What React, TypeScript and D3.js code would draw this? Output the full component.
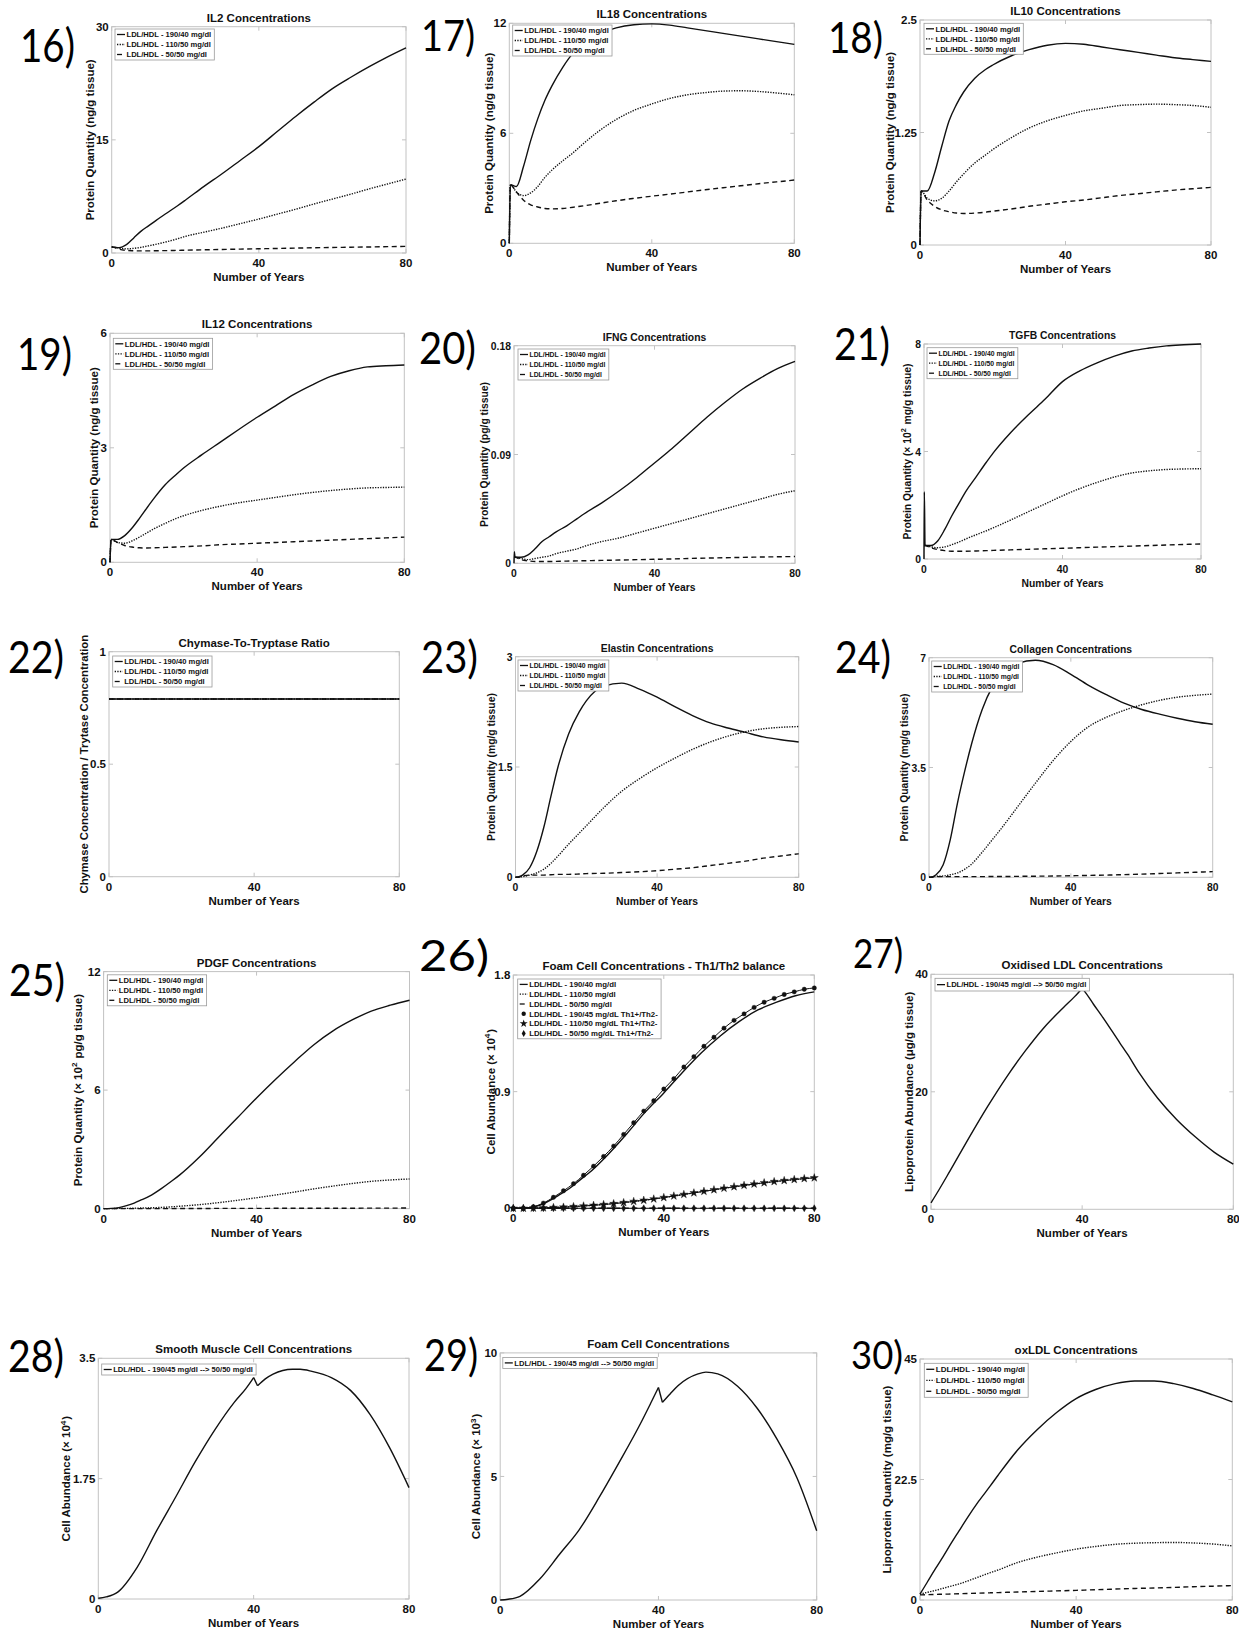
import React from 'react';
import * as d3 from 'd3';

// ---------------- x grids ----------------
const YEARS = [0, 0.3, 2, 4, 6, 8, 10, 12, 15, 18, 20, 25, 30, 35, 40, 45, 50, 55, 60, 65, 70, 75, 80];
const SPIKE_YEARS = [0, 0.1, 0.3, 2, 4, 6, 8, 10, 12, 15, 18, 20, 25, 30, 35, 40, 45, 50, 55, 60, 65, 70, 75, 80];
const SWITCH_YEARS = [0, 2, 5, 10, 15, 20, 25, 30, 35, 38, 40, 41, 43, 45, 50, 52, 55, 60, 65, 70, 75, 80];
const MARK_YEARS = [0, 2.67, 5.33, 8, 10.67, 13.33, 16, 18.67, 21.33, 24, 26.67, 29.33, 32, 34.67, 37.33, 40, 42.67, 45.33, 48, 50.67, 53.33, 56, 58.67, 61.33, 64, 66.67, 69.33, 72, 74.67, 77.33, 80];
const X_TICKS = [0, 40, 80];

// ---------------- series values ----------------
const IL2_HIGH = [0.8, 0.8, 0.7, 1.1, 2.0, 2.9, 3.6, 4.3, 5.3, 6.3, 7.0, 8.8, 10.5, 12.3, 14.1, 16.1, 18.1, 20.0, 21.8, 23.3, 24.7, 26.0, 27.2];
const IL2_MID = [0.8, 0.8, 0.65, 0.55, 0.62, 0.75, 0.95, 1.15, 1.5, 1.9, 2.2, 2.75, 3.3, 3.9, 4.5, 5.15, 5.8, 6.5, 7.15, 7.8, 8.5, 9.15, 9.8];
const IL2_LOW = [0.8, 0.78, 0.5, 0.35, 0.3, 0.28, 0.28, 0.3, 0.32, 0.35, 0.37, 0.42, 0.47, 0.52, 0.56, 0.6, 0.65, 0.7, 0.73, 0.77, 0.8, 0.84, 0.88];

const IL18_HIGH = [0, 3.2, 3.1, 4.2, 5.6, 6.8, 7.8, 8.6, 9.6, 10.4, 10.8, 11.4, 11.75, 11.92, 11.97, 11.9, 11.75, 11.6, 11.45, 11.3, 11.15, 11.0, 10.85];
const IL18_MID = [0, 3.2, 2.8, 2.6, 2.75, 3.1, 3.6, 4.0, 4.5, 4.95, 5.3, 6.1, 6.75, 7.25, 7.6, 7.9, 8.1, 8.22, 8.3, 8.32, 8.28, 8.2, 8.1];
const IL18_LOW = [0, 3.2, 2.8, 2.35, 2.1, 1.98, 1.9, 1.88, 1.9, 1.97, 2.02, 2.17, 2.32, 2.45, 2.57, 2.68, 2.8, 2.92, 3.03, 3.14, 3.25, 3.35, 3.45];

const IL10_HIGH = [0, 0.6, 0.6, 0.8, 1.1, 1.38, 1.56, 1.7, 1.85, 1.95, 2.0, 2.1, 2.17, 2.22, 2.24, 2.23, 2.2, 2.17, 2.14, 2.11, 2.08, 2.06, 2.04];
const IL10_MID = [0, 0.6, 0.52, 0.49, 0.52, 0.6, 0.7, 0.79, 0.91, 1.0, 1.06, 1.19, 1.3, 1.38, 1.44, 1.49, 1.52, 1.55, 1.56, 1.565, 1.56, 1.55, 1.53];
const IL10_LOW = [0, 0.6, 0.5, 0.43, 0.39, 0.37, 0.355, 0.35, 0.355, 0.365, 0.375, 0.4, 0.43, 0.455, 0.48, 0.5, 0.525, 0.55, 0.57, 0.59, 0.61, 0.625, 0.64];

const IL12_HIGH = [0, 0.6, 0.6, 0.7, 0.9, 1.15, 1.42, 1.68, 2.03, 2.3, 2.47, 2.82, 3.15, 3.48, 3.8, 4.1, 4.4, 4.65, 4.87, 5.02, 5.12, 5.15, 5.17];
const IL12_MID = [0, 0.6, 0.52, 0.5, 0.56, 0.66, 0.77, 0.88, 1.02, 1.15, 1.22, 1.36, 1.47, 1.56, 1.63, 1.7, 1.77, 1.83, 1.88, 1.92, 1.95, 1.96, 1.97];
const IL12_LOW = [0, 0.6, 0.52, 0.44, 0.4, 0.38, 0.375, 0.38, 0.39, 0.4, 0.41, 0.43, 0.46, 0.48, 0.5, 0.52, 0.54, 0.56, 0.58, 0.6, 0.62, 0.64, 0.66];

const IFNG_HIGH = [0, 0.0095, 0.005, 0.005, 0.007, 0.012, 0.018, 0.022, 0.026, 0.031, 0.037, 0.041, 0.05, 0.06, 0.071, 0.083, 0.095, 0.108, 0.121, 0.133, 0.144, 0.153, 0.161, 0.167];
const IFNG_MID = [0.005, 0.005, 0.005, 0.004, 0.003, 0.004, 0.005, 0.006, 0.008, 0.01, 0.012, 0.014, 0.018, 0.021, 0.025, 0.029, 0.033, 0.037, 0.041, 0.045, 0.049, 0.053, 0.057, 0.06];
const IFNG_LOW = [0.005, 0.005, 0.005, 0.003, 0.002, 0.0015, 0.0015, 0.0015, 0.0016, 0.0018, 0.002, 0.0021, 0.0024, 0.0027, 0.003, 0.0033, 0.0036, 0.004, 0.0043, 0.0046, 0.0049, 0.0052, 0.0054, 0.0056];

const TGFB_HIGH = [0, 2.5, 0.5, 0.5, 0.68, 1.1, 1.6, 2.05, 2.5, 3.05, 3.6, 3.95, 4.7, 5.35, 5.95, 6.6, 7.0, 7.3, 7.55, 7.74, 7.85, 7.93, 7.97, 8.0];
const TGFB_MID = [0.5, 0.5, 0.5, 0.45, 0.42, 0.45, 0.53, 0.63, 0.74, 0.9, 1.05, 1.16, 1.45, 1.75, 2.05, 2.35, 2.62, 2.85, 3.05, 3.2, 3.28, 3.33, 3.35, 3.36];
const TGFB_LOW = [0.5, 0.5, 0.5, 0.42, 0.35, 0.31, 0.29, 0.29, 0.29, 0.3, 0.31, 0.32, 0.34, 0.36, 0.38, 0.4, 0.42, 0.44, 0.46, 0.48, 0.5, 0.52, 0.54, 0.56];

const CHYMASE_HIGH = [0.79, 0.79, 0.79, 0.79, 0.79, 0.79, 0.79, 0.79, 0.79, 0.79, 0.79, 0.79, 0.79, 0.79, 0.79, 0.79, 0.79, 0.79, 0.79, 0.79, 0.79, 0.79, 0.79];
const CHYMASE_MID = [0.79, 0.79, 0.79, 0.79, 0.79, 0.79, 0.79, 0.79, 0.79, 0.79, 0.79, 0.79, 0.79, 0.79, 0.79, 0.79, 0.79, 0.79, 0.79, 0.79, 0.79, 0.79, 0.79];
const CHYMASE_LOW = [0.79, 0.79, 0.79, 0.79, 0.79, 0.79, 0.79, 0.79, 0.79, 0.79, 0.79, 0.79, 0.79, 0.79, 0.79, 0.79, 0.79, 0.79, 0.79, 0.79, 0.79, 0.79, 0.79];

const ELASTIN_HIGH = [0, 0, 0.03, 0.13, 0.35, 0.68, 1.1, 1.5, 1.95, 2.25, 2.4, 2.6, 2.64, 2.56, 2.45, 2.32, 2.2, 2.1, 2.03, 1.97, 1.91, 1.87, 1.84];
const ELASTIN_MID = [0, 0, 0.01, 0.03, 0.06, 0.11, 0.19, 0.29, 0.45, 0.6, 0.7, 0.95, 1.17, 1.34, 1.49, 1.62, 1.74, 1.84, 1.92, 1.98, 2.02, 2.04, 2.05];
const ELASTIN_LOW = [0, 0, 0.02, 0.03, 0.03, 0.03, 0.035, 0.04, 0.04, 0.045, 0.05, 0.055, 0.065, 0.075, 0.09, 0.11, 0.13, 0.16, 0.19, 0.22, 0.26, 0.29, 0.32];

const COLLAGEN_HIGH = [0, 0, 0.08, 0.4, 1.2, 2.35, 3.35, 4.25, 5.35, 6.1, 6.45, 6.82, 6.92, 6.78, 6.47, 6.12, 5.82, 5.55, 5.35, 5.2, 5.07, 4.96, 4.88];
const COLLAGEN_MID = [0, 0, 0.03, 0.04, 0.08, 0.14, 0.25, 0.42, 0.8, 1.22, 1.5, 2.25, 3.0, 3.72, 4.33, 4.8, 5.1, 5.32, 5.5, 5.64, 5.74, 5.8, 5.84];
const COLLAGEN_LOW = [0, 0, 0.02, 0.02, 0.02, 0.02, 0.02, 0.02, 0.02, 0.025, 0.025, 0.03, 0.035, 0.04, 0.05, 0.06, 0.07, 0.085, 0.1, 0.12, 0.14, 0.16, 0.18];

const PDGF_HIGH = [0, 0, 0.01, 0.05, 0.15, 0.28, 0.45, 0.63, 1.0, 1.42, 1.72, 2.6, 3.6, 4.6, 5.6, 6.55, 7.45, 8.3, 9.0, 9.55, 10.0, 10.3, 10.55];
const PDGF_MID = [0, 0, 0, 0.01, 0.01, 0.02, 0.03, 0.04, 0.06, 0.09, 0.12, 0.2, 0.3, 0.42, 0.55, 0.69, 0.84, 1.0, 1.14, 1.27, 1.38, 1.45, 1.5];
const PDGF_LOW = [0, 0, 0, 0, 0, 0, 0, 0, 0, 0, 0.005, 0.005, 0.01, 0.01, 0.01, 0.015, 0.015, 0.02, 0.02, 0.02, 0.025, 0.025, 0.03];

const FOAM_HIGH = [0, 0, 0, 0.005, 0.015, 0.035, 0.065, 0.1, 0.155, 0.225, 0.27, 0.41, 0.57, 0.74, 0.89, 1.05, 1.2, 1.33, 1.44, 1.53, 1.59, 1.64, 1.67];
const FOAM_MID = [0, 0, 0, 0, 0.002, 0.004, 0.006, 0.008, 0.012, 0.017, 0.021, 0.032, 0.046, 0.063, 0.083, 0.105, 0.128, 0.15, 0.17, 0.19, 0.207, 0.222, 0.235];
const FOAM_LOW = [0, 0, 0, 0, 0, 0, 0, 0, 0, 0, 0, 0, 0, 0, 0, 0, 0, 0, 0, 0, 0, 0, 0];
const FOAM_TH_HIGH = [0, 0, 0.012, 0.04, 0.085, 0.135, 0.19, 0.255, 0.325, 0.4, 0.48, 0.57, 0.66, 0.75, 0.83, 0.92, 1.0, 1.09, 1.17, 1.25, 1.32, 1.39, 1.45, 1.5, 1.55, 1.59, 1.62, 1.65, 1.67, 1.69, 1.7];
const FOAM_TH_MID = [0, 0, 0.001, 0.003, 0.006, 0.009, 0.013, 0.018, 0.023, 0.029, 0.036, 0.044, 0.053, 0.062, 0.072, 0.083, 0.095, 0.107, 0.119, 0.131, 0.143, 0.155, 0.166, 0.177, 0.187, 0.197, 0.206, 0.214, 0.222, 0.229, 0.235];
const FOAM_TH_LOW = [0, 0, 0, 0, 0, 0, 0, 0, 0, 0, 0, 0, 0, 0, 0, 0, 0, 0, 0, 0, 0, 0, 0, 0, 0, 0, 0, 0, 0, 0, 0];

const OXLDL_SWITCH = [1.1, 3.2, 6.5, 12.1, 17.5, 22.5, 27.0, 31.0, 34.3, 36.2, 37.6, 36.8, 34.9, 33.1, 28.3, 26.4, 23.3, 18.9, 15.3, 12.3, 9.7, 7.7];
const SMC_SWITCH = [0.01, 0.03, 0.1, 0.46, 0.99, 1.49, 2.0, 2.46, 2.86, 3.06, 3.22, 3.1, 3.2, 3.27, 3.34, 3.34, 3.31, 3.22, 3.03, 2.68, 2.2, 1.62];
const FOAMCELL_SWITCH = [0, 0.03, 0.15, 0.85, 1.85, 2.85, 4.15, 5.55, 7.0, 7.95, 8.6, 8.0, 8.35, 8.68, 9.15, 9.22, 9.15, 8.65, 7.75, 6.5, 4.95, 2.8];

const OXLDL_HIGH = [1.1, 1.45, 3.5, 5.9, 8.2, 10.6, 12.9, 15.2, 18.4, 21.3, 23.3, 28.0, 31.8, 35.0, 37.6, 39.3, 40.4, 40.9, 40.9, 40.4, 39.5, 38.3, 37.0];
const OXLDL_MID = [1.1, 1.15, 1.45, 1.8, 2.2, 2.6, 3.0, 3.5, 4.3, 5.1, 5.6, 7.0, 8.0, 8.8, 9.5, 10.0, 10.4, 10.6, 10.7, 10.75, 10.65, 10.45, 10.1];
const OXLDL_LOW = [0.95, 0.95, 1.0, 1.04, 1.08, 1.12, 1.17, 1.21, 1.28, 1.34, 1.38, 1.5, 1.6, 1.7, 1.8, 1.92, 2.04, 2.15, 2.25, 2.36, 2.47, 2.58, 2.7];

// ---------------- tick labels ----------------
const TICKS_IL2 = [0, 15, 30];
const TICKS_IL18 = [0, 6, 12];
const TICKS_IL10 = [0, 1.25, 2.5];
const TICKS_IL12 = [0, 3, 6];
const TICKS_IFNG = [0, 0.09, 0.18];
const TICKS_TGFB = [0, 4, 8];
const TICKS_CHYMASE = [0, 0.5, 1];
const TICKS_ELASTIN = [0, 1.5, 3];
const TICKS_COLLAGEN = [0, 3.5, 7];
const TICKS_PDGF = [0, 6, 12];
const TICKS_FOAM = [0, 0.9, 1.8];
const TICKS_OXSW = [0, 20, 40];
const TICKS_SMC = [0, 1.75, 3.5];
const TICKS_FOAMSW = [0, 5, 10];
const TICKS_OXLDL = [0, 22.5, 45];

// ---------------- legend labels ----------------
const LBL_HIGH = 'LDL/HDL - 190/40 mg/dl';
const LBL_MID = 'LDL/HDL - 110/50 mg/dl';
const LBL_LOW = 'LDL/HDL - 50/50 mg/dl';
const LBL_TH_HIGH = 'LDL/HDL - 190/45 mg/dL Th1+/Th2-';
const LBL_TH_MID = 'LDL/HDL - 110/50 mg/dL Th1+/Th2-';
const LBL_TH_LOW = 'LDL/HDL - 50/50 mg/dL Th1+/Th2-';
const LBL_SWITCH = 'LDL/HDL - 190/45 mg/dl --> 50/50 mg/dl';

// ---------------- rendering ----------------
const FONT = "'Liberation Sans', Arial, Helvetica, sans-serif";
const TAG_FONT = "Lato, 'Open Sans', 'Noto Sans', sans-serif";
const FRAME = '#c2c2c2';
const INK = '#111';

type Style = 'solid' | 'dotted' | 'dashed';
type Marker = 'circle' | 'star' | 'diamond';

const DASH: Record<Style, string | undefined> = { solid: undefined, dotted: '1.3 1.3', dashed: '5 3.5' };
const WIDTH: Record<Style, number> = { solid: 1.4, dotted: 1.4, dashed: 1.4 };
const SYM: Record<Marker, string> = {
  circle: d3.symbol(d3.symbolCircle, 15)() as string,
  star: d3.symbol(d3.symbolStar, 20)() as string,
  diamond: d3.symbol(d3.symbolDiamond, 14)() as string,
};

let _ctx: CanvasRenderingContext2D | null = null;
function textWidth(s: string, fs: number) {
  if (typeof document !== 'undefined') {
    if (!_ctx) _ctx = document.createElement('canvas').getContext('2d');
    if (_ctx) {
      _ctx.font = `bold ${fs}px 'Liberation Sans', Arial, sans-serif`;
      return _ctx.measureText(s).width;
    }
  }
  return s.length * fs * 0.56;
}

const s3 = (ys: number[], style: Style, xs: number[] = YEARS, extra: any = {}) => ({ xs, ys, style, ...extra });
const STD_LEGEND = [
  { label: LBL_HIGH, style: 'solid' as Style },
  { label: LBL_MID, style: 'dotted' as Style },
  { label: LBL_LOW, style: 'dashed' as Style },
];

const PANELS: any[] = [
  { tag: '16)', tag_: [20, 62, 46, 55], box: [111.7, 26.7, 406, 253], title: 'IL2 Concentrations', ylabel: 'Protein Quantity (ng/g tissue)', yOff: 17.7, ticks: TICKS_IL2,
    series: [s3(IL2_HIGH, 'solid'), s3(IL2_MID, 'dotted'), s3(IL2_LOW, 'dashed')], legend: { items: STD_LEGEND, dx: 3.3, dy: 2.3 } },
  { tag: '17)', tag_: [421, 51, 42, 54], box: [509.3, 23.3, 794.3, 243.3], title: 'IL18 Concentrations', ylabel: 'Protein Quantity (ng/g tissue)', yOff: 16.3, ticks: TICKS_IL18,
    series: [s3(IL18_HIGH, 'solid'), s3(IL18_MID, 'dotted'), s3(IL18_LOW, 'dashed')], legend: { items: STD_LEGEND, dx: 3.4, dy: 1.7 } },
  { tag: '18)', tag_: [828, 53, 43, 55], box: [920, 20, 1211, 245], title: 'IL10 Concentrations', ylabel: 'Protein Quantity (ng/g tissue)', yOff: 26, ticks: TICKS_IL10,
    series: [s3(IL10_HIGH, 'solid'), s3(IL10_MID, 'dotted'), s3(IL10_LOW, 'dashed')], legend: { items: STD_LEGEND, dx: 4, dy: 3.3 } },
  { tag: '19)', tag_: [17, 370, 44, 55], box: [110, 333.3, 404.3, 562.3], title: 'IL12 Concentrations', ylabel: 'Protein Quantity (ng/g tissue)', yOff: 12, ticks: TICKS_IL12,
    series: [s3(IL12_HIGH, 'solid'), s3(IL12_MID, 'dotted'), s3(IL12_LOW, 'dashed')], legend: { items: STD_LEGEND, dx: 3.3, dy: 5 } },
  { tag: '20)', tag_: [419, 364, 44, 57], box: [514, 345.7, 795, 563.3], title: 'IFNG Concentrations', ylabel: 'Protein Quantity (pg/g tissue)', yOff: 26, ticks: TICKS_IFNG, sq: 0.9,
    series: [s3(IFNG_HIGH, 'solid', SPIKE_YEARS), s3(IFNG_MID, 'dotted', SPIKE_YEARS), s3(IFNG_LOW, 'dashed', SPIKE_YEARS)], legend: { items: STD_LEGEND, dx: 4, dy: 3.3 } },
  { tag: '21)', tag_: [834, 360, 44, 56], box: [924, 344, 1201, 559], title: 'TGFB Concentrations', ylabel: 'Protein Quantity (× 10^2^ mg/g tissue)', yOff: 13, ticks: TICKS_TGFB, sq: 0.9,
    series: [s3(TGFB_HIGH, 'solid', SPIKE_YEARS), s3(TGFB_MID, 'dotted', SPIKE_YEARS), s3(TGFB_LOW, 'dashed', SPIKE_YEARS)], legend: { items: STD_LEGEND, dx: 3, dy: 3.7 } },
  { tag: '22)', tag_: [8, 673, 44, 56], box: [109, 651.7, 399.3, 876.7], title: 'Chymase-To-Tryptase Ratio', ylabel: 'Chymase Concentration / Trytase Concentration', yOff: 21.5, ticks: TICKS_CHYMASE, yfs: 11.3,
    series: [s3(CHYMASE_HIGH, 'solid'), s3(CHYMASE_MID, 'dotted'), s3(CHYMASE_LOW, 'dashed')], legend: { items: STD_LEGEND, dx: 3.7, dy: 4.3 } },
  { tag: '23)', tag_: [421, 673, 44, 57], box: [515.5, 656.7, 798.7, 877.3], title: 'Elastin Concentrations', ylabel: 'Protein Quantity (mg/g tissue)', yOff: 20.5, ticks: TICKS_ELASTIN, sq: 0.9,
    series: [s3(ELASTIN_HIGH, 'solid'), s3(ELASTIN_MID, 'dotted'), s3(ELASTIN_LOW, 'dashed')], legend: { items: STD_LEGEND, dx: 2.5, dy: 3.3 } },
  { tag: '24)', tag_: [835, 673, 44, 56], box: [929, 657.7, 1212.7, 877.3], title: 'Collagen Concentrations', ylabel: 'Protein Quantity (mg/g tissue)', yOff: 21, ticks: TICKS_COLLAGEN, sq: 0.9,
    series: [s3(COLLAGEN_HIGH, 'solid'), s3(COLLAGEN_MID, 'dotted'), s3(COLLAGEN_LOW, 'dashed')], legend: { items: STD_LEGEND, dx: 2.7, dy: 3.3 } },
  { tag: '25)', tag_: [9, 996, 45, 56], box: [103.6, 971.6, 409.5, 1208.6], title: 'PDGF Concentrations', ylabel: 'Protein Quantity (× 10^2^ pg/g tissue)', yOff: 21.6, ticks: TICKS_PDGF,
    series: [s3(PDGF_HIGH, 'solid'), s3(PDGF_MID, 'dotted'), s3(PDGF_LOW, 'dashed')], legend: { items: STD_LEGEND, dx: 3.7, dy: 3.2 } },
  { tag: '26)', tag_: [419, 971, 42, 70], box: [513.3, 975, 814.3, 1208.3], title: 'Foam Cell Concentrations - Th1/Th2 balance', ylabel: 'Cell Abundance (× 10^4^)', yOff: 18.3, ticks: TICKS_FOAM,
    series: [s3(FOAM_HIGH, 'solid'), s3(FOAM_MID, 'dotted'), s3(FOAM_LOW, 'dashed'),
      s3(FOAM_TH_HIGH, 'solid', MARK_YEARS, { marker: 'circle', width: 1 }), s3(FOAM_TH_MID, 'solid', MARK_YEARS, { marker: 'star', width: 1 }), s3(FOAM_TH_LOW, 'solid', MARK_YEARS, { marker: 'diamond', width: 1 })],
    legend: { items: [...STD_LEGEND, { label: LBL_TH_HIGH, marker: 'circle' }, { label: LBL_TH_MID, marker: 'star' }, { label: LBL_TH_LOW, marker: 'diamond' }], dx: 4.4, dy: 4, rowH: 9.8, fs: 7.8 } },
  { tag: '27)', tag_: [853, 968, 40, 50], box: [931, 974.3, 1233.3, 1209.3], title: 'Oxidised LDL Concentrations', ylabel: 'Lipoprotein Abundance (μg/g tissue)', yOff: 18.5, ticks: TICKS_OXSW,
    series: [s3(OXLDL_SWITCH, 'solid', SWITCH_YEARS, { breaks: [40] })], legend: { items: [{ label: LBL_SWITCH, style: 'solid' }], dx: 4, dy: 4, rowH: 11.7 } },
  { tag: '28)', tag_: [8, 1372, 44, 56], box: [98.3, 1358.3, 409, 1599], title: 'Smooth Muscle Cell Concentrations', ylabel: 'Cell Abundance (× 10^4^)', yOff: 28, ticks: TICKS_SMC,
    series: [s3(SMC_SWITCH, 'solid', SWITCH_YEARS, { breaks: [40, 41] })], legend: { items: [{ label: LBL_SWITCH, style: 'solid' }], dx: 3.4, dy: 5.7 } },
  { tag: '29)', tag_: [424, 1371, 44, 54], box: [500.2, 1352.9, 816.7, 1600], title: 'Foam Cell Concentrations', ylabel: 'Cell Abundance (× 10^3^)', yOff: 20, ticks: TICKS_FOAMSW,
    series: [s3(FOAMCELL_SWITCH, 'solid', SWITCH_YEARS, { breaks: [40, 41] })], legend: { items: [{ label: LBL_SWITCH, style: 'solid' }], dx: 2.6, dy: 4.5 } },
  { tag: '30)', tag_: [851, 1369, 38, 52], box: [920, 1359, 1232.3, 1600], title: 'oxLDL Concentrations', ylabel: 'Lipoprotein Quantity (mg/g tissue)', yOff: 29, ticks: TICKS_OXLDL,
    series: [s3(OXLDL_HIGH, 'solid'), s3(OXLDL_MID, 'dotted'), s3(OXLDL_LOW, 'dashed')], legend: { items: STD_LEGEND, dx: 4.3, dy: 4.3, rowH: 11, fs: 8 } },
];

function tf(x: number, y: number, sq = 1, rot = 0) {
  return `translate(${x},${y})${rot ? ` rotate(${rot})` : ''}${sq !== 1 ? ` scale(${sq},1)` : ''}`;
}

function RichText({ text, fs }: { text: string; fs: number }) {
  const parts = text.split('^');
  const out: any[] = [];
  parts.forEach((p, i) => {
    if (!p) return;
    if (i % 2 === 1) {
      out.push(<tspan key={i} dy={-fs * 0.4} fontSize={fs * 0.7}>{p}</tspan>);
      out.push(<tspan key={i + 'r'} dy={fs * 0.4} fontSize={fs}>{'\u200A'}</tspan>);
    } else {
      out.push(<tspan key={i}>{p}</tspan>);
    }
  });
  return <>{out}</>;
}

function Panel({ p }: { p: any }) {
  const [L, T, R, B] = p.box;
  const sq = p.sq ?? 1;
  const x = d3.scaleLinear().domain([0, 80]).range([L, R]);
  const yMax = p.ticks[p.ticks.length - 1];
  const y = d3.scaleLinear().domain([0, yMax]).range([B, T]);
  const line = d3.line<[number, number]>().x(d => x(d[0])).y(d => y(d[1])).curve(d3.curveMonotoneX);
  const tickFs = 11.5;
  const labFs = 11.5;
  const yfs = p.yfs ?? labFs;

  const paths: any[] = [];
  p.series.forEach((s: any, si: number) => {
    const pts: [number, number][] = s.xs.map((xv: number, i: number) => [xv, s.ys[i]]);
    const cuts = [0, ...(s.breaks || []), 80];
    for (let k = 0; k < cuts.length - 1; k++) {
      const seg = pts.filter(d => d[0] >= cuts[k] && d[0] <= cuts[k + 1]);
      paths.push(
        <path key={`${si}-${k}`} d={line(seg) || ''} fill="none" stroke={INK}
          strokeWidth={s.width ?? WIDTH[s.style as Style]} strokeDasharray={DASH[s.style as Style]} strokeLinejoin="round" />
      );
    }
    if (s.marker) {
      pts.forEach((d, i) => {
        paths.push(<path key={`m${si}-${i}`} d={SYM[s.marker as Marker]} transform={`translate(${x(d[0])},${y(d[1])})`} fill={INK} stroke={INK} strokeWidth={0.4} />);
      });
    }
  });

  const lg = p.legend;
  const lfs = lg.fs ?? 7.6;
  const rowH = lg.rowH ?? 10;
  const maxW = d3.max(lg.items, (it: any) => textWidth(it.label, lfs)) as number;
  const bx = L + lg.dx;
  const by = T + lg.dy;
  const bw = 11.5 + maxW * sq + 3;
  const bh = rowH * lg.items.length + 1;

  const [tx, ty, tfs, tw] = p.tag_;

  return (
    <g>
      <text x={tx} y={ty} fontFamily={TAG_FONT} fontSize={tfs} fill="#000" textLength={tw} lengthAdjust="spacingAndGlyphs">{p.tag}</text>
      <rect x={L} y={T} width={R - L} height={B - T} fill="#fff" stroke={FRAME} strokeWidth={1} />
      {p.ticks.map((t: number) => (
        <g key={'yt' + t}>
          <line x1={L} x2={L + 4} y1={y(t)} y2={y(t)} stroke={FRAME} />
          <line x1={R} x2={R - 4} y1={y(t)} y2={y(t)} stroke={FRAME} />
          <text transform={tf(L - 3, y(t) + tickFs * 0.36, sq)} textAnchor="end" fontFamily={FONT} fontWeight="bold" fontSize={tickFs} fill={INK}>{String(t)}</text>
        </g>
      ))}
      {X_TICKS.map(t => (
        <g key={'xt' + t}>
          <line x1={x(t)} x2={x(t)} y1={B} y2={B - 4} stroke={FRAME} />
          <line x1={x(t)} x2={x(t)} y1={T} y2={T + 4} stroke={FRAME} />
          <text transform={tf(x(t), B + 14, sq)} textAnchor="middle" fontFamily={FONT} fontWeight="bold" fontSize={tickFs} fill={INK}>{String(t)}</text>
        </g>
      ))}
      <text transform={tf((L + R) / 2, B + 28, sq)} textAnchor="middle" fontFamily={FONT} fontWeight="bold" fontSize={labFs} fill={INK}>Number of Years</text>
      <text transform={tf(L - p.yOff, (T + B) / 2, sq, -90)} textAnchor="middle" fontFamily={FONT} fontWeight="bold" fontSize={yfs} fill={INK}>
        <RichText text={p.ylabel} fs={yfs} />
      </text>
      <text transform={tf((L + R) / 2, T - 5, sq)} textAnchor="middle" fontFamily={FONT} fontWeight="bold" fontSize={labFs} fill={INK}>{p.title}</text>
      <g>{paths}</g>
      <g>
        <rect x={bx} y={by} width={bw} height={bh} fill="#fff" stroke="#9a9a9a" strokeWidth={0.8} />
        {lg.items.map((it: any, i: number) => {
          const cy = by + 0.5 + rowH * (i + 0.5);
          return (
            <g key={i}>
              {it.marker
                ? <path d={SYM[it.marker as Marker]} transform={`translate(${bx + 6},${cy})`} fill={INK} />
                : <line x1={bx + 2} x2={bx + 10} y1={cy} y2={cy} stroke={INK} strokeWidth={1.3} strokeDasharray={DASH[it.style as Style]} />}
              <text transform={tf(bx + 11.5, cy + lfs * 0.36, sq)} fontFamily={FONT} fontWeight="bold" fontSize={lfs} fill={INK}>{it.label}</text>
            </g>
          );
        })}
      </g>
    </g>
  );
}

export default function App() {
  return (
    <svg width={1239} height={1635} viewBox="0 0 1239 1635" style={{ position: 'absolute', left: 0, top: 0, background: '#fff' }}>
      <rect x={0} y={0} width={1239} height={1635} fill="#fff" />
      {PANELS.map((p, i) => <Panel key={i} p={p} />)}
    </svg>
  );
}
